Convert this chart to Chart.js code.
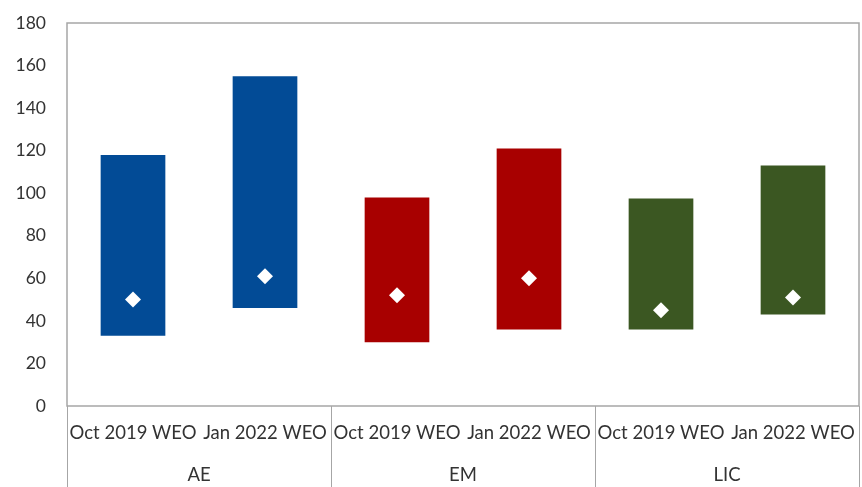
<!DOCTYPE html>
<html>
<head>
<meta charset="utf-8">
<script src="https://cdn.jsdelivr.net/npm/chart.js@4/dist/chart.umd.min.js"></script>
<style>
  body{margin:0;background:#fff}
  #wrap{width:862px;height:487px;position:relative}
</style>
</head>
<body>
<div id="wrap"><canvas id="rangeChart"></canvas></div>
<script>
/* ===== DATA ===== */
const categories=["Oct 2019 WEO","Jan 2022 WEO","Oct 2019 WEO","Jan 2022 WEO","Oct 2019 WEO","Jan 2022 WEO"];
const groups=["AE","EM","LIC"];
const lows=[33,46,30,36,36,43];
const highs=[118,155,98,121,97.5,113];
const medians=[50,61,52,60,45,51];
const yTicks=[0,20,40,60,80,100,120,140,160,180];

/* ===== STYLE ===== */
const groupColors=["#024b96","#a80000","#3b5722"];
const barColors=categories.map((c,i)=>groupColors[Math.floor(i/2)]);
const textColor="#333333";
const lineColor="#a6a6a6";
const yFont={family:"Lato",size:17.5,lineHeight:1.2};
const xFont={family:"Lato",size:18.5,lineHeight:1.2};

/* box round the plot + group separators below it */
const frame={
  id:"frame",
  afterDraw(c){
    const a=c.chartArea,ctx=c.ctx,x=c.scales.x;
    ctx.save();
    ctx.strokeStyle=lineColor;
    ctx.lineWidth=1.5;
    ctx.strokeRect(a.left,a.top,a.right-a.left,a.bottom-a.top);
    const half=(x.getPixelForValue(1)-x.getPixelForValue(0))/2;
    ctx.lineWidth=1;
    ctx.beginPath();
    for(let g=0;g<=groups.length;g++){
      const px=g<groups.length?x.getPixelForValue(g*2)-half:x.getPixelForValue(g*2-1)+half;
      ctx.moveTo(Math.round(px)+0.5,a.bottom);
      ctx.lineTo(Math.round(px)+0.5,c.height);
    }
    ctx.stroke();
    ctx.restore();
  }
};

function noPad(s){s.paddingTop=0;s.paddingBottom=0;s.paddingLeft=0;s.paddingRight=0}

new Chart(document.getElementById("rangeChart"),{
  type:"bar",
  data:{
    labels:categories,
    datasets:[
      {
        type:"line",
        label:"Median",
        data:medians,
        showLine:false,
        pointStyle:"rectRot",
        pointRadius:8,
        pointBackgroundColor:"#ffffff",
        pointBorderWidth:0,
        xAxisID:"x",
        order:0
      },
      {
        label:"Range",
        data:lows.map((l,i)=>[l,highs[i]]),
        backgroundColor:barColors,
        borderWidth:0,
        barPercentage:0.49,
        categoryPercentage:1,
        xAxisID:"x",
        order:1
      }
    ]
  },
  options:{
    responsive:true,
    maintainAspectRatio:false,
    animation:false,
    layout:{autoPadding:false,padding:{top:23,right:3,bottom:0,left:0}},
    plugins:{legend:{display:false},tooltip:{enabled:false}},
    scales:{
      y:{
        min:0,max:180,
        afterBuildTicks:s=>{s.ticks=yTicks.map(v=>({value:v}))},
        afterFit:s=>{s.width=67;noPad(s)},
        grid:{display:false,drawTicks:false},
        border:{display:false},
        ticks:{color:textColor,font:yFont,padding:21}
      },
      x:{
        position:"bottom",
        afterFit:s=>{s.height=44;noPad(s)},
        grid:{display:false,drawTicks:false},
        border:{display:false},
        ticks:{color:textColor,font:xFont,padding:16,autoSkip:false,maxRotation:0}
      },
      x2:{
        type:"category",
        labels:groups,
        position:"bottom",
        offset:true,
        afterFit:s=>{s.height=37;noPad(s)},
        grid:{display:false,drawTicks:false},
        border:{display:false},
        ticks:{color:textColor,font:xFont,padding:14,autoSkip:false,maxRotation:0}
      }
    }
  },
  plugins:[frame]
});
</script>
</body>
</html>
